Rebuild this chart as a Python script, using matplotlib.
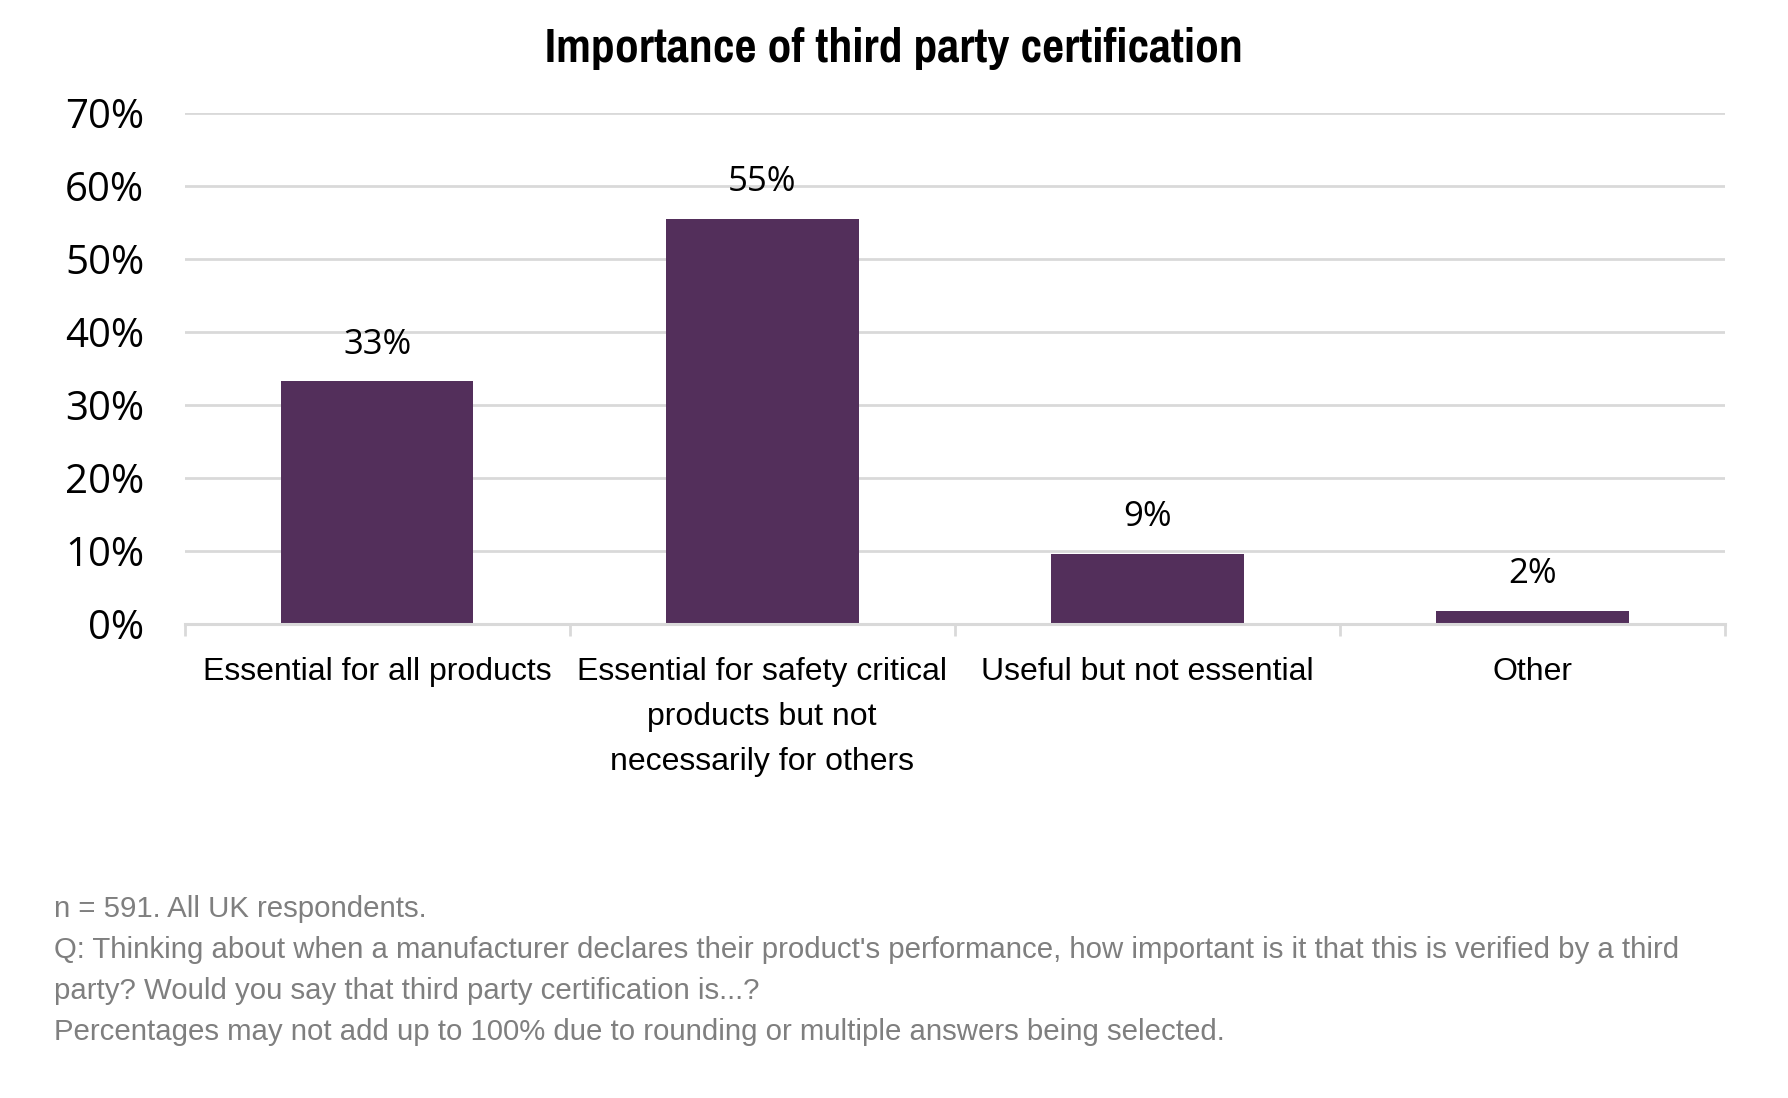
import matplotlib
matplotlib.use("Agg")
import matplotlib.pyplot as plt
from matplotlib.ticker import FuncFormatter, FixedLocator

# chart data
categories = [
    "Essential for all products",
    "Essential for safety critical\nproducts but not\nnecessarily for others",
    "Useful but not essential",
    "Other",
]
values = [33.2, 55.4, 9.6, 1.8]
value_labels = ["33%", "55%", "9%", "2%"]
yticks = [0, 10, 20, 30, 40, 50, 60, 70]

title = "Importance of third party certification"
notes = [
    "n = 591. All UK respondents.",
    "Q: Thinking about when a manufacturer declares their product's performance, how important is it that this is verified by a third",
    "party? Would you say that third party certification is...?",
    "Percentages may not add up to 100% due to rounding or multiple answers being selected.",
]

# arial for the excel text, a narrow bold for the title, segoe-ish for the numbers
arial = ["Liberation Sans", "DejaVu Sans"]
narrow = ["Pragati Narrow", "Roboto Condensed", "Liberation Sans", "DejaVu Sans"]
rounded = ["Open Sans", "Noto Sans", "DejaVu Sans"]

bar_color = "#532f5b"
grid_color = "#d9d9d9"


def main():
    fig = plt.figure(figsize=(17.88, 10.98), dpi=100)
    ax = fig.add_axes([0.1032, 0.4317, 0.8616, 0.4658])

    x = list(range(len(categories)))
    ax.bar(x, values, width=0.5, color=bar_color, zorder=3)

    ax.set_xlim(-0.5, len(categories) - 0.5)
    ax.set_ylim(0, 70)

    # gridlines
    ax.set_yticks(yticks)
    ax.yaxis.set_major_formatter(FuncFormatter(lambda v, p: "%d%%" % v))
    ax.grid(axis="y", color=grid_color, linewidth=2.0, zorder=0)
    ax.tick_params(axis="y", length=0, pad=29, labelsize=29, labelcolor="black")
    for lab in ax.get_yticklabels():
        lab.set_fontfamily(rounded)

    # category labels + excel style tick marks between categories
    ax.set_xticks(x)
    ax.set_xticklabels(categories, fontfamily=arial, fontsize=23,
                       linespacing=1.66, va="top")
    ax.tick_params(axis="x", which="major", length=0, pad=23.5)
    ax.xaxis.set_minor_locator(FixedLocator([i - 0.5 for i in range(len(categories) + 1)]))
    ax.tick_params(axis="x", which="minor", length=8.6, width=2.0, color=grid_color)

    for s in ["top", "right", "left"]:
        ax.spines[s].set_visible(False)
    ax.spines["bottom"].set_color(grid_color)
    ax.spines["bottom"].set_linewidth(2.2)
    ax.spines["bottom"].set_zorder(4)

    # value labels
    for i, v in enumerate(values):
        ax.annotate(value_labels[i], (i, v), xytext=(0, 20), textcoords="offset points",
                    ha="center", va="baseline", fontsize=25, fontfamily=rounded)

    fig.text(0.5, 1 - 62 / 1098, title, ha="center", va="baseline",
             fontsize=37.5, fontweight="bold", fontfamily=narrow)

    y0 = 917
    for k, line in enumerate(notes):
        fig.text(53.5 / 1788, 1 - (y0 + 41 * k) / 1098, line, ha="left", va="baseline",
                 fontsize=21.2, color="#7f7f7f", fontfamily=arial)

    fig.savefig("out.png", dpi=100)


main()
